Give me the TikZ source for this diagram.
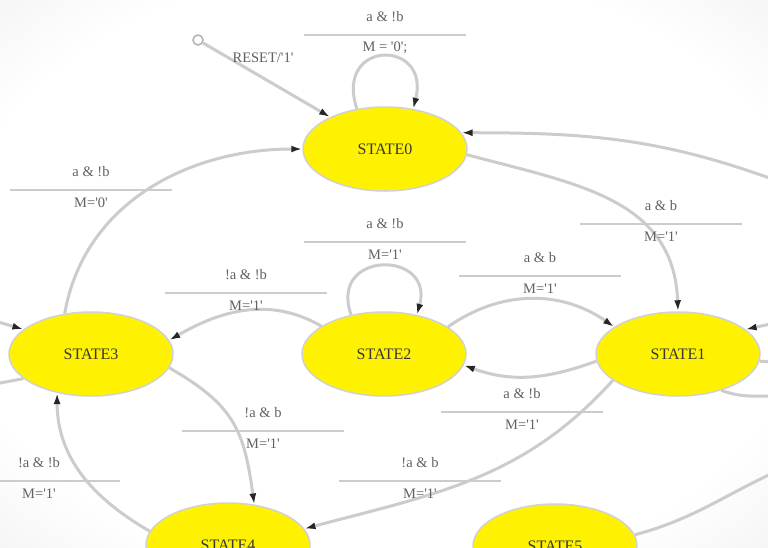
\documentclass[tikz,border=0pt]{standalone}
\usepackage{fontspec}
\setmainfont{Liberation Serif}
\usetikzlibrary{shapes.geometric,arrows.meta}
\pgfdeclareradialshading{vignette}{\pgfpoint{0bp}{0bp}}{color(0bp)=(white); color(28bp)=(white); color(72bp)=(black!22)}
\tikzset{
  st/.style={ellipse, fill=yellow, draw=black!18, line width=1.5pt, minimum width=164pt, minimum height=84pt, inner sep=0pt, font=\fontsize{16}{18}\selectfont, text=black!78},
  tr/.style={draw=black!20, line width=3pt, -{Latex[length=11pt,width=7pt,color=black!85]}},
  trn/.style={draw=black!20, line width=3pt},
  lbl/.style={font=\fontsize{14.5}{16}\selectfont, text=black!62, inner sep=1pt},
  lblline/.style={draw=black!20, line width=1.8pt},
  initst/.style={circle, draw=black!30, line width=1.5pt, fill=white, minimum size=10pt, inner sep=0pt}
}
\newcommand\q{\textquotesingle}
\newcommand\translabel[5]{%
  \node[lbl] (#1t) at (#2,#3) {#4};
  \node[lbl] (#1b) at (#2,#3+31) {#5};
  \draw[lblline] (#2-81,#3+18) -- (#2+81,#3+18);}
\begin{document}
\begin{tikzpicture}[x=1pt,y=-1pt]
\useasboundingbox (0,0) rectangle (768,547);
\fill[shading=vignette] (0,0) rectangle (768,547);
\begin{scope}
\clip (0,0) rectangle (768,547);
% states
\node[st] (S0) at (385,149) {STATE0};
\node[st] (S1) at (678,354) {STATE1};
\node[st] (S2) at (384,354) {STATE2};
\node[st] (S3) at (91,354) {STATE3};
\node[st] (S4) at (228,545) {STATE4};
\node[st] (S5) at (555,546) {STATE5};
\node[initst] (init) at (198,40) {};
% free ends
\coordinate (r0) at (775,180);
\coordinate (r1a) at (775,323);
\coordinate (r1b) at (775,362);
\coordinate (r1c) at (775,396);
\coordinate (l3a) at (-5,321);
\coordinate (l3b) at (-5,384);
\coordinate (r5) at (775,472);
% transitions
\draw[tr] (init) -- (S0);
\draw[tr] (S0.125) .. controls +(-23,-70) and +(18,-70) .. (S0.55);
\draw[tr] (S3.123) to[out=80,in=180] (S0.west);
\draw[tr] (S0.-4) to[out=-15,in=92,looseness=1.1] (S1.90);
\draw[tr] (r0) to[out=160,in=0] (S0.12);
\draw[tr] (S2.130) .. controls +(-23,-65) and +(18,-65) .. (S2.50);
\draw[tr] (S2.156) to[out=150,in=30] (S3.10);
\draw[tr] (S2.23) to[out=35,in=145] (S1.157);
\draw[tr] (S1.185) to[out=200,in=-20] (S2.-8);
\draw[tr] (S1.202) to[out=228,in=15] (S4.12);
\draw[tr] (S3.-10) to[out=-30,in=98,looseness=1.2] (S4.57);
\draw[tr] (S4.170) to[out=150,in=-90] (S3.229);
\draw[tr] (l3a) -- (S3.160);
\draw[trn] (S3.200) -- (l3b);
\draw[tr] (r1a) -- (S1.20);
\draw[trn] (S1.-5) -- (r1b);
\draw[trn] (S1.-40) to[out=-20,in=180] (r1c);
\draw[trn] (S5.8) to[out=15,in=205] (r5);
% labels
\node[lbl] (rl) at (263,58) {RESET/\q1\q};
\translabel{la}{385}{17}{a \& !b}{M = \q0\q;}
\translabel{lb}{91}{172}{a \& !b}{M=\q0\q}
\translabel{lc}{661}{206}{a \& b}{M=\q1\q}
\translabel{ld}{385}{224}{a \& !b}{M=\q1\q}
\translabel{le}{246}{275}{!a \& !b}{M=\q1\q}
\translabel{lf}{540}{258}{a \& b}{M=\q1\q}
\translabel{lg}{522}{394}{a \& !b}{M=\q1\q}
\translabel{lh}{263}{413}{!a \& b}{M=\q1\q}
\translabel{li}{39}{463}{!a \& !b}{M=\q1\q}
\translabel{lj}{420}{463}{!a \& b}{M=\q1\q}
\end{scope}
\end{tikzpicture}
\end{document}
